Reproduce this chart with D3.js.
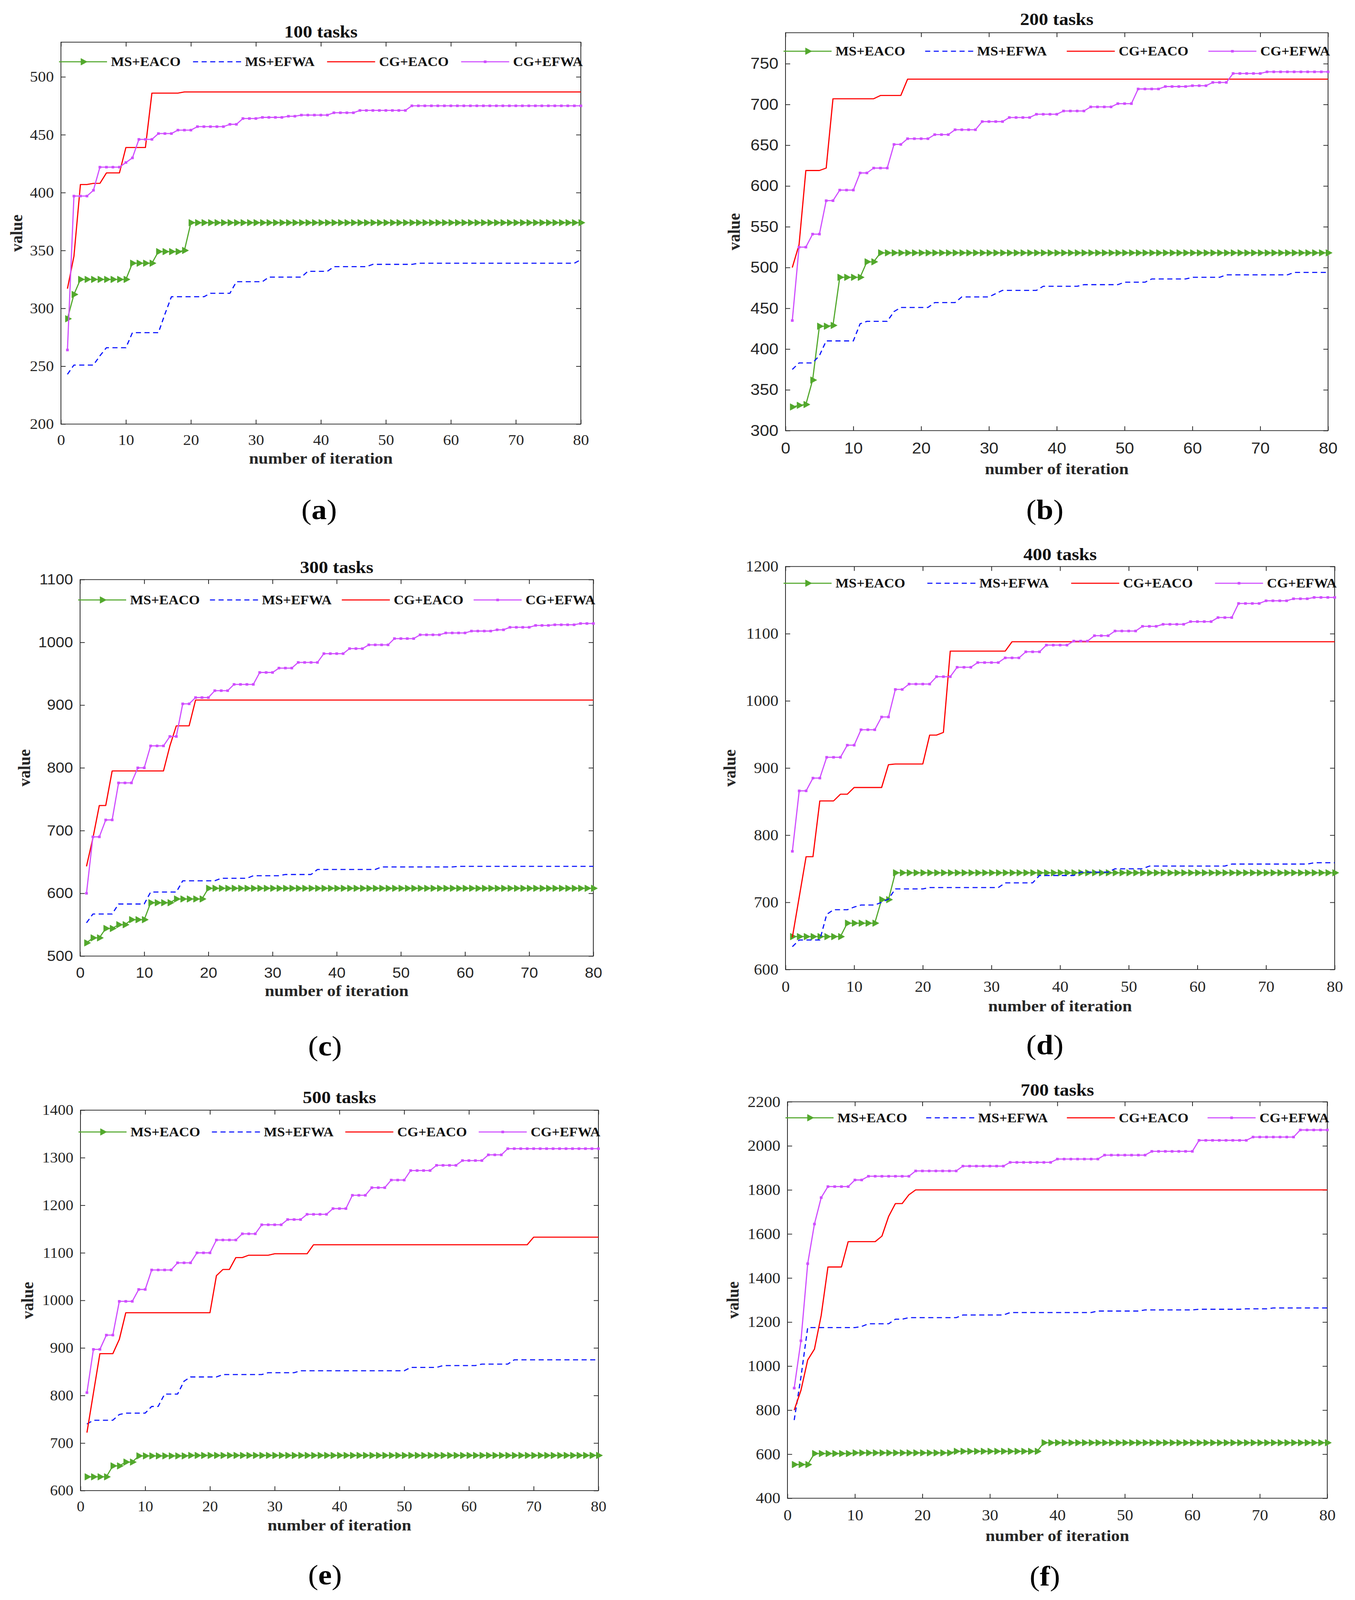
<!DOCTYPE html>
<html>
<head>
<meta charset="utf-8">
<script src="https://cdn.jsdelivr.net/npm/d3@7.9.0/dist/d3.min.js"></script>
<style>
  html, body { margin: 0; padding: 0; background: #fff; width: 100%; height: 100%; overflow: hidden; }
  svg { display: block; width: 100vw; height: 100vh; }
</style>
</head>
<body>
<svg id="chart" viewBox="0 0 3469 4403" preserveAspectRatio="none"></svg>
<script>
// x values: iterations 1..80
const iterations = d3.range(1, 81);
const xTicks = [0, 10, 20, 30, 40, 50, 60, 70, 80];
const seriesNames = ["MS+EACO", "MS+EFWA", "CG+EACO", "CG+EFWA"];
const panelTitles = ["100 tasks", "200 tasks", "300 tasks", "400 tasks", "500 tasks", "700 tasks"];
const panelLetters = ["a", "b", "c", "d", "e", "f"];

const yTicksA = [200, 250, 300, 350, 400, 450, 500];
const yTicksB = [300, 350, 400, 450, 500, 550, 600, 650, 700, 750];
const yTicksC = [500, 600, 700, 800, 900, 1000, 1100];
const yTicksD = [600, 700, 800, 900, 1000, 1100, 1200];
const yTicksE = [600, 700, 800, 900, 1000, 1100, 1200, 1300, 1400];
const yTicksF = [400, 600, 800, 1000, 1200, 1400, 1600, 1800, 2000, 2200];

// ---- (a) 100 tasks ----
const a_msEaco = [
  291,312,325,325,325,325,325,325,325,325,
  339,339,339,339,349,349,349,349,350,374,
  374,374,374,374,374,374,374,374,374,374,
  374,374,374,374,374,374,374,374,374,374,
  374,374,374,374,374,374,374,374,374,374,
  374,374,374,374,374,374,374,374,374,374,
  374,374,374,374,374,374,374,374,374,374,
  374,374,374,374,374,374,374,374,374,374];
const a_msEfwa = [
  243,251,251,251,251,259,266,266,266,266,
  279,279,279,279,279,295,310,310,310,310,
  310,310,313,313,313,313,323,323,323,323,
  323,327,327,327,327,327,327,332,332,332,
  332,336,336,336,336,336,336,338,338,338,
  338,338,338,338,339,339,339,339,339,339,
  339,339,339,339,339,339,339,339,339,339,
  339,339,339,339,339,339,339,339,339,342];
const a_cgEaco = [
  317,345,407,407,408,408,417,417,417,439,
  439,439,439,486,486,486,486,486,487,487,
  487,487,487,487,487,487,487,487,487,487,
  487,487,487,487,487,487,487,487,487,487,
  487,487,487,487,487,487,487,487,487,487,
  487,487,487,487,487,487,487,487,487,487,
  487,487,487,487,487,487,487,487,487,487,
  487,487,487,487,487,487,487,487,487,487];
const a_cgEfwa = [
  264,397,397,397,402,422,422,422,422,426,
  430,446,446,446,451,451,451,454,454,454,
  457,457,457,457,457,459,459,464,464,464,
  465,465,465,465,466,466,467,467,467,467,
  467,469,469,469,469,471,471,471,471,471,
  471,471,471,475,475,475,475,475,475,475,
  475,475,475,475,475,475,475,475,475,475,
  475,475,475,475,475,475,475,475,475,475];

// ---- (b) 200 tasks ----
const b_msEaco = [
  329,331,332,362,428,428,429,488,488,488,
  488,507,507,518,518,518,518,518,518,518,
  518,518,518,518,518,518,518,518,518,518,
  518,518,518,518,518,518,518,518,518,518,
  518,518,518,518,518,518,518,518,518,518,
  518,518,518,518,518,518,518,518,518,518,
  518,518,518,518,518,518,518,518,518,518,
  518,518,518,518,518,518,518,518,518,518];
const b_msEfwa = [
  375,383,383,383,392,410,410,410,410,410,
  431,434,434,434,434,446,451,451,451,451,
  451,457,457,457,457,464,464,464,464,464,
  468,472,472,472,472,472,472,477,477,477,
  477,477,477,479,479,479,479,479,479,482,
  482,482,482,486,486,486,486,486,486,488,
  488,488,488,488,491,491,491,491,491,491,
  491,491,491,491,494,494,494,494,494,494];
const b_cgEaco = [
  500,528,619,619,619,622,707,707,707,707,
  707,707,707,711,711,711,711,731,731,731,
  731,731,731,731,731,731,731,731,731,731,
  731,731,731,731,731,731,731,731,731,731,
  731,731,731,731,731,731,731,731,731,731,
  731,731,731,731,731,731,731,731,731,731,
  731,731,731,731,731,731,731,731,731,731,
  731,731,731,731,731,731,731,731,731,731];
const b_cgEfwa = [
  435,525,525,541,541,582,582,595,595,595,
  616,616,622,622,622,651,651,658,658,658,
  658,663,663,663,669,669,669,669,679,679,
  679,679,684,684,684,684,688,688,688,688,
  692,692,692,692,697,697,697,697,701,701,
  701,719,719,719,719,722,722,722,722,723,
  723,723,727,727,727,738,738,738,738,738,
  740,740,740,740,740,740,740,740,740,740];

// ---- (c) 300 tasks ----
const c_msEaco = [
  521,529,529,544,544,550,550,558,558,558,
  585,585,585,585,591,591,591,591,591,608,
  608,608,608,608,608,608,608,608,608,608,
  608,608,608,608,608,608,608,608,608,608,
  608,608,608,608,608,608,608,608,608,608,
  608,608,608,608,608,608,608,608,608,608,
  608,608,608,608,608,608,608,608,608,608,
  608,608,608,608,608,608,608,608,608,608];
const c_msEfwa = [
  553,567,567,567,567,583,583,583,583,583,
  602,602,602,602,602,620,620,620,620,620,
  620,624,624,624,624,624,628,628,628,628,
  628,630,630,630,630,630,638,638,638,638,
  638,638,638,638,638,638,642,642,642,642,
  642,642,642,642,642,642,642,642,643,643,
  643,643,643,643,643,643,643,643,643,643,
  643,643,643,643,643,643,643,643,643,643];
const c_cgEaco = [
  643,688,740,740,795,795,795,795,795,795,
  795,795,795,835,867,867,867,908,908,908,
  908,908,908,908,908,908,908,908,908,908,
  908,908,908,908,908,908,908,908,908,908,
  908,908,908,908,908,908,908,908,908,908,
  908,908,908,908,908,908,908,908,908,908,
  908,908,908,908,908,908,908,908,908,908,
  908,908,908,908,908,908,908,908,908,908];
const c_cgEfwa = [
  600,690,690,717,717,776,776,776,800,800,
  835,835,835,850,850,902,902,912,912,912,
  923,923,923,933,933,933,933,952,952,952,
  959,959,959,968,968,968,968,982,982,982,
  982,990,990,990,996,996,996,996,1006,1006,
  1006,1006,1012,1012,1012,1012,1015,1015,1015,1015,
  1018,1018,1018,1018,1020,1020,1024,1024,1024,1024,
  1027,1027,1027,1028,1028,1028,1028,1030,1030,1030];

// ---- (d) 400 tasks ----
const d_msEaco = [
  649,649,649,649,649,649,649,649,669,669,
  669,669,669,704,704,744,744,744,744,744,
  744,744,744,744,744,744,744,744,744,744,
  744,744,744,744,744,744,744,744,744,744,
  744,744,744,744,744,744,744,744,744,744,
  744,744,744,744,744,744,744,744,744,744,
  744,744,744,744,744,744,744,744,744,744,
  744,744,744,744,744,744,744,744,744,744];
const d_msEfwa = [
  634,644,644,644,644,682,689,689,689,693,
  696,696,696,700,705,720,720,720,720,720,
  722,722,722,722,722,722,722,722,722,722,
  722,729,729,729,729,729,740,740,740,740,
  740,740,745,745,745,745,745,750,750,750,
  750,750,754,754,754,754,754,754,754,754,
  754,754,754,754,757,757,757,757,757,757,
  757,757,757,757,757,757,759,759,759,759];
const d_cgEaco = [
  648,708,768,768,851,851,851,861,861,871,
  871,871,871,871,905,906,906,906,906,906,
  949,949,953,1074,1074,1074,1074,1074,1074,1074,
  1074,1074,1088,1088,1088,1088,1088,1088,1088,1088,
  1088,1088,1088,1088,1088,1088,1088,1088,1088,1088,
  1088,1088,1088,1088,1088,1088,1088,1088,1088,1088,
  1088,1088,1088,1088,1088,1088,1088,1088,1088,1088,
  1088,1088,1088,1088,1088,1088,1088,1088,1088,1088];
const d_cgEfwa = [
  776,866,866,885,885,916,916,916,934,934,
  957,957,957,976,976,1017,1017,1025,1025,1025,
  1025,1036,1036,1036,1050,1050,1050,1057,1057,1057,
  1057,1064,1064,1064,1073,1073,1073,1083,1083,1083,
  1083,1089,1089,1089,1097,1097,1097,1104,1104,1104,
  1104,1111,1111,1111,1114,1114,1114,1114,1118,1118,
  1118,1118,1124,1124,1124,1145,1145,1145,1145,1149,
  1149,1149,1149,1152,1152,1152,1154,1154,1154,1154];

// ---- (e) 500 tasks ----
const e_msEaco = [
  629,629,629,629,652,652,660,660,673,673,
  673,673,673,673,673,673,674,674,674,674,
  674,674,674,674,674,674,674,674,674,674,
  674,674,674,674,674,674,674,674,674,674,
  674,674,674,674,674,674,674,674,674,674,
  674,674,674,674,674,674,674,674,674,674,
  674,674,674,674,674,674,674,674,674,674,
  674,674,674,674,674,674,674,674,674,674];
const e_msEfwa = [
  740,748,748,748,748,760,763,763,763,763,
  777,777,803,803,803,830,839,839,839,839,
  839,844,844,844,844,844,844,844,848,848,
  848,848,848,852,852,852,852,852,852,852,
  852,852,852,852,852,852,852,852,852,852,
  859,859,859,859,859,863,863,863,863,863,
  863,866,866,866,866,866,875,875,875,875,
  875,875,875,875,875,875,875,875,875,875];
const e_cgEaco = [
  722,805,888,888,888,918,974,974,974,974,
  974,974,974,974,974,974,974,974,974,974,
  1052,1065,1065,1090,1090,1095,1095,1095,1095,1098,
  1098,1098,1098,1098,1098,1117,1117,1117,1117,1117,
  1117,1117,1117,1117,1117,1117,1117,1117,1117,1117,
  1117,1117,1117,1117,1117,1117,1117,1117,1117,1117,
  1117,1117,1117,1117,1117,1117,1117,1117,1117,1133,
  1133,1133,1133,1133,1133,1133,1133,1133,1133,1133];
const e_cgEfwa = [
  806,897,897,927,927,998,998,998,1023,1023,
  1064,1064,1064,1064,1079,1079,1079,1100,1100,1100,
  1127,1127,1127,1127,1140,1140,1140,1159,1159,1159,
  1159,1170,1170,1170,1181,1181,1181,1181,1193,1193,
  1193,1221,1221,1221,1237,1237,1237,1253,1253,1253,
  1273,1273,1273,1273,1284,1284,1284,1284,1294,1294,
  1294,1294,1306,1306,1306,1319,1319,1319,1319,1319,
  1319,1319,1319,1319,1319,1319,1319,1319,1319,1319];

// ---- (f) 700 tasks ----
const f_msEaco = [
  553,553,553,603,603,603,603,603,603,606,
  606,606,606,606,606,606,606,606,606,606,
  606,606,606,606,613,613,613,613,613,613,
  613,613,613,613,613,613,613,652,652,652,
  652,652,652,652,652,652,652,652,652,652,
  652,652,652,652,652,652,652,652,652,652,
  652,652,652,652,652,652,652,652,652,652,
  652,652,652,652,652,652,652,652,652,652];
const f_msEfwa = [
  755,950,1175,1175,1175,1175,1175,1175,1175,1175,
  1180,1192,1192,1192,1192,1213,1213,1220,1220,1220,
  1220,1220,1220,1220,1220,1232,1232,1232,1232,1232,
  1232,1232,1243,1243,1243,1243,1243,1243,1243,1243,
  1243,1243,1243,1243,1243,1250,1250,1250,1250,1250,
  1250,1250,1255,1255,1255,1255,1255,1255,1255,1255,
  1258,1258,1258,1258,1258,1258,1258,1260,1260,1260,
  1260,1264,1264,1264,1264,1264,1264,1264,1264,1264];
const f_cgEaco = [
  800,890,1028,1077,1230,1450,1450,1450,1565,1565,
  1565,1565,1565,1590,1680,1738,1738,1778,1800,1800,
  1800,1800,1800,1800,1800,1800,1800,1800,1800,1800,
  1800,1800,1800,1800,1800,1800,1800,1800,1800,1800,
  1800,1800,1800,1800,1800,1800,1800,1800,1800,1800,
  1800,1800,1800,1800,1800,1800,1800,1800,1800,1800,
  1800,1800,1800,1800,1800,1800,1800,1800,1800,1800,
  1800,1800,1800,1800,1800,1800,1800,1800,1800,1800];
const f_cgEfwa = [
  900,1115,1465,1645,1765,1815,1815,1815,1815,1845,
  1845,1862,1862,1862,1862,1862,1862,1862,1886,1886,
  1886,1886,1886,1886,1886,1908,1908,1908,1908,1908,
  1908,1908,1925,1925,1925,1925,1925,1925,1925,1940,
  1940,1940,1940,1940,1940,1940,1958,1958,1958,1958,
  1958,1958,1958,1975,1975,1975,1975,1975,1975,1975,
  2025,2025,2025,2025,2025,2025,2025,2025,2040,2040,
  2040,2040,2040,2040,2040,2072,2072,2072,2072,2072];

// ---- styles and layout ----
const serifFont = "'Liberation Serif','Times New Roman',Times,serif";
const sansFont = "'Liberation Sans',Arial,Helvetica,sans-serif";
const axisColor = "#262626";

const seriesStyle = [
  { color: "#52a82c", dash: null, marker: "triangle" },
  { color: "#0a14ff", dash: "13,9", marker: null },
  { color: "#ff0000", dash: null, marker: null },
  { color: "#cf4dff", dash: null, marker: "square" }
];

const panels = [
  { values: [a_msEaco, a_msEfwa, a_cgEaco, a_cgEfwa], yDomain: [200, 530], yTicks: yTicksA,
    box: [156, 116, 1487, 1167], tickFont: serifFont, tickSize: 41,
    titleY: 103, yLabelX: 43, xTickY: 1210, xLabelY: 1263, legendY: 170, sub: [817, 1405] },
  { values: [b_msEaco, b_msEfwa, b_cgEaco, b_cgEfwa], yDomain: [300, 788], yTicks: yTicksB,
    box: [2011, 90, 3400, 1185], tickFont: sansFont, tickSize: 43,
    titleY: 69, yLabelX: 1880, xTickY: 1233, xLabelY: 1292, legendY: 141, sub: [2675, 1405] },
  { values: [c_msEaco, c_msEfwa, c_cgEaco, c_cgEfwa], yDomain: [500, 1100], yTicks: yTicksC,
    box: [205, 1595, 1519, 2631], tickFont: sansFont, tickSize: 40,
    titleY: 1577, yLabelX: 63, xTickY: 2676, xLabelY: 2728, legendY: 1651, sub: [832, 2881] },
  { values: [d_msEaco, d_msEfwa, d_cgEaco, d_cgEfwa], yDomain: [600, 1200], yTicks: yTicksD,
    box: [2011, 1559, 3417, 2668], tickFont: serifFont, tickSize: 42,
    titleY: 1542, yLabelX: 1869, xTickY: 2714, xLabelY: 2770, legendY: 1605, sub: [2675, 2878] },
  { values: [e_msEaco, e_msEfwa, e_cgEaco, e_cgEfwa], yDomain: [600, 1400], yTicks: yTicksE,
    box: [206, 3055, 1532, 4102], tickFont: serifFont, tickSize: 40,
    titleY: 3036, yLabelX: 71, xTickY: 4145, xLabelY: 4198, legendY: 3115, sub: [832, 4337] },
  { values: [f_msEaco, f_msEfwa, f_cgEaco, f_cgEfwa], yDomain: [400, 2200], yTicks: yTicksF,
    box: [2016, 3032, 3398, 4123], tickFont: serifFont, tickSize: 42,
    titleY: 3015, yLabelX: 1877, xTickY: 4169, xLabelY: 4228, legendY: 3076, sub: [2675, 4340] }
];

const svg = d3.select("#chart");
svg.append("rect").attr("width", 3469).attr("height", 4403).attr("fill", "#fff");

const triangle = d3.symbol().type(d3.symbolTriangle).size(150);
const fmt = d3.format("d");

function drawMarker(g, kind, cx, cy, color) {
  if (kind === "triangle") {
    g.append("path")
      .attr("d", triangle())
      .attr("transform", `translate(${cx},${cy}) rotate(90)`)
      .attr("fill", color)
      .attr("stroke", color)
      .attr("stroke-width", 1);
  } else if (kind === "square") {
    g.append("rect")
      .attr("x", cx - 3.5).attr("y", cy - 3.5)
      .attr("width", 7).attr("height", 7)
      .attr("fill", color);
  }
}

function styleAxis(sel, p) {
  sel.select(".domain").remove();
  sel.selectAll(".tick line").attr("stroke", axisColor).attr("stroke-width", 2);
  sel.selectAll(".tick text")
    .attr("fill", axisColor)
    .attr("font-family", p.tickFont)
    .attr("font-size", p.tickSize);
  sel.attr("font-family", p.tickFont).attr("font-size", p.tickSize);
}

panels.forEach((p, pi) => {
  const [x0, y0, x1, y1] = p.box;
  const x = d3.scaleLinear().domain([0, 80]).range([x0, x1]);
  const y = d3.scaleLinear().domain(p.yDomain).range([y1, y0]);
  const g = svg.append("g");

  // axes with inward ticks on all four sides
  const xPad = p.xTickY - y1 - 0.355 * p.tickSize;
  g.append("g").attr("transform", `translate(0,${y1})`)
    .call(d3.axisBottom(x).tickValues(xTicks).tickFormat(fmt).tickSizeInner(-12).tickSizeOuter(0).tickPadding(xPad))
    .call(s => styleAxis(s, p));
  g.append("g").attr("transform", `translate(0,${y0})`)
    .call(d3.axisTop(x).tickValues(xTicks).tickSizeInner(-12).tickSizeOuter(0).tickFormat(""))
    .call(s => styleAxis(s, p));
  g.append("g").attr("transform", `translate(${x0},0)`)
    .call(d3.axisLeft(y).tickValues(p.yTicks).tickFormat(fmt).tickSizeInner(-12).tickSizeOuter(0).tickPadding(18))
    .call(s => styleAxis(s, p));
  g.append("g").attr("transform", `translate(${x1},0)`)
    .call(d3.axisRight(y).tickValues(p.yTicks).tickSizeInner(-12).tickSizeOuter(0).tickFormat(""))
    .call(s => styleAxis(s, p));

  g.append("rect")
    .attr("x", x0).attr("y", y0)
    .attr("width", x1 - x0).attr("height", y1 - y0)
    .attr("fill", "none")
    .attr("stroke", axisColor)
    .attr("stroke-width", 2);

  // series
  const line = d3.line().x((d, i) => x(iterations[i])).y(d => y(d));
  p.values.forEach((vals, si) => {
    const st = seriesStyle[si];
    const path = g.append("path")
      .attr("d", line(vals))
      .attr("fill", "none")
      .attr("stroke", st.color)
      .attr("stroke-width", 3)
      .attr("stroke-linejoin", "round");
    if (st.dash) path.attr("stroke-dasharray", st.dash);
    if (st.marker) {
      const mg = g.append("g");
      vals.forEach((v, i) => drawMarker(mg, st.marker, x(iterations[i]), y(v), st.color));
    }
  });

  // legend across the top of the axes
  const lg = g.append("g")
    .attr("font-family", serifFont)
    .attr("font-weight", "bold")
    .attr("font-size", 36)
    .attr("fill", "#111");
  const lineLen = 123, gap = 10;
  const texts = seriesNames.map(n => lg.append("text").text(n).attr("y", p.legendY).attr("dy", "0.33em"));
  const widths = texts.map(t => t.node().getComputedTextLength());
  const start = x0 - 5, end = x1 + 5;
  const used = d3.sum(widths) + 4 * (lineLen + gap);
  const spacing = (end - start - used) / 3;
  let cx = start;
  seriesNames.forEach((n, i) => {
    const st = seriesStyle[i];
    const l = lg.append("line")
      .attr("x1", cx).attr("x2", cx + lineLen)
      .attr("y1", p.legendY).attr("y2", p.legendY)
      .attr("stroke", st.color).attr("stroke-width", 3);
    if (st.dash) l.attr("stroke-dasharray", st.dash);
    if (st.marker) drawMarker(lg, st.marker, cx + lineLen / 2, p.legendY, st.color);
    texts[i].attr("x", cx + lineLen + gap);
    cx += lineLen + gap + widths[i] + spacing;
  });

  // title and axis labels
  g.append("text")
    .attr("x", (x0 + x1) / 2).attr("y", p.titleY)
    .attr("text-anchor", "middle")
    .attr("font-family", serifFont).attr("font-weight", "bold").attr("font-size", 48)
    .attr("fill", "#111")
    .text(panelTitles[pi]);

  g.append("text")
    .attr("x", (x0 + x1) / 2).attr("y", p.xLabelY)
    .attr("dy", "0.3em")
    .attr("text-anchor", "middle")
    .attr("font-family", serifFont).attr("font-weight", "bold").attr("font-size", 44)
    .attr("fill", "#262626")
    .text("number of iteration");

  g.append("text")
    .attr("transform", `translate(${p.yLabelX},${(y0 + y1) / 2}) rotate(-90)`)
    .attr("dy", "0.3em")
    .attr("text-anchor", "middle")
    .attr("font-family", serifFont).attr("font-weight", "bold").attr("font-size", 45)
    .attr("fill", "#262626")
    .text("value");

  // sub-figure label
  const sub = g.append("text")
    .attr("x", p.sub[0]).attr("y", p.sub[1])
    .attr("dy", "0.3em")
    .attr("text-anchor", "middle")
    .attr("font-family", serifFont).attr("font-size", 78)
    .attr("fill", "#000");
  sub.append("tspan").text("(");
  sub.append("tspan").attr("font-weight", "bold").text(panelLetters[pi]);
  sub.append("tspan").text(")");
});
</script>
</body>
</html>
